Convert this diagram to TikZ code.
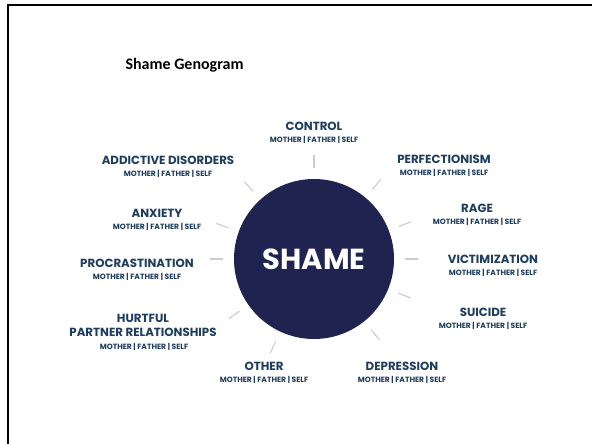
\documentclass[tikz,border=0pt]{standalone}
\usepackage{fontspec}
\setmainfont{Carlito}
\newfontfamily\catfont{Poppins}

\definecolor{shamenavy}{HTML}{1F2350}
\definecolor{catblue}{HTML}{1E3D5F}
\definecolor{raygray}{HTML}{CCCCCC}

\tikzset{
  cathead/.style={font=\catfont\bfseries\fontsize{11.8}{14}\selectfont, text=catblue, inner sep=0pt, align=center},
  catsub/.style={font=\catfont\bfseries\fontsize{7.6}{9}\selectfont, text=catblue, inner sep=0pt},
  ray/.style={draw=raygray, line width=1.1pt},
}

% heading plus the mother/father/self line under it
\newcommand{\catlabel}[4]{%
  \node[cathead] (#1) at (#2,#3) {#4};
  \node[catsub] (#1-who) at ({#2},{#3+14}) {MOTHER | FATHER | SELF};
}

\begin{document}
\begin{tikzpicture}[x=1pt,y=-1pt]
  \useasboundingbox (0,0) rectangle (592,444);
  \fill[white] (0,0) rectangle (592,444);
  \draw[line width=2.5pt] (592,5) -- (8,5) -- (8,444);

  \node[font=\bfseries\fontsize{16}{18}\selectfont, anchor=west] (title) at (122,65) {Shame Genogram};

  \node[circle, fill=shamenavy, minimum size=160pt, text=white,
        font=\catfont\bfseries\fontsize{29}{32}\selectfont] (shame) at (314,259) {SHAME};

  % short rays around the circle
  \foreach \a in {90, 50, 21, 0, -22, -51, -115, -145, 180, 160, 132} {
    \draw[ray] (shame.center) ++(\a:91pt) -- ++(\a:13pt);
  }

  \catlabel{control}{314}{126}{CONTROL}
  \catlabel{addictive}{168}{160}{ADDICTIVE DISORDERS}
  \catlabel{perfection}{444}{159}{PERFECTIONISM}
  \catlabel{rage}{477}{208}{RAGE}
  \catlabel{anxiety}{157}{213}{ANXIETY}
  \catlabel{procrast}{137}{263}{PROCRASTINATION}
  \catlabel{victim}{493}{259}{VICTIMIZATION}
  \catlabel{suicide}{483}{312}{SUICIDE}
  \catlabel{other}{264}{366}{OTHER}
  \catlabel{depression}{402}{366}{DEPRESSION}

  \node[cathead] (hurtful) at (143,325) {HURTFUL\\PARTNER RELATIONSHIPS};
  \node[catsub] (hurtful-who) at (144,347) {MOTHER | FATHER | SELF};
\end{tikzpicture}
\end{document}
